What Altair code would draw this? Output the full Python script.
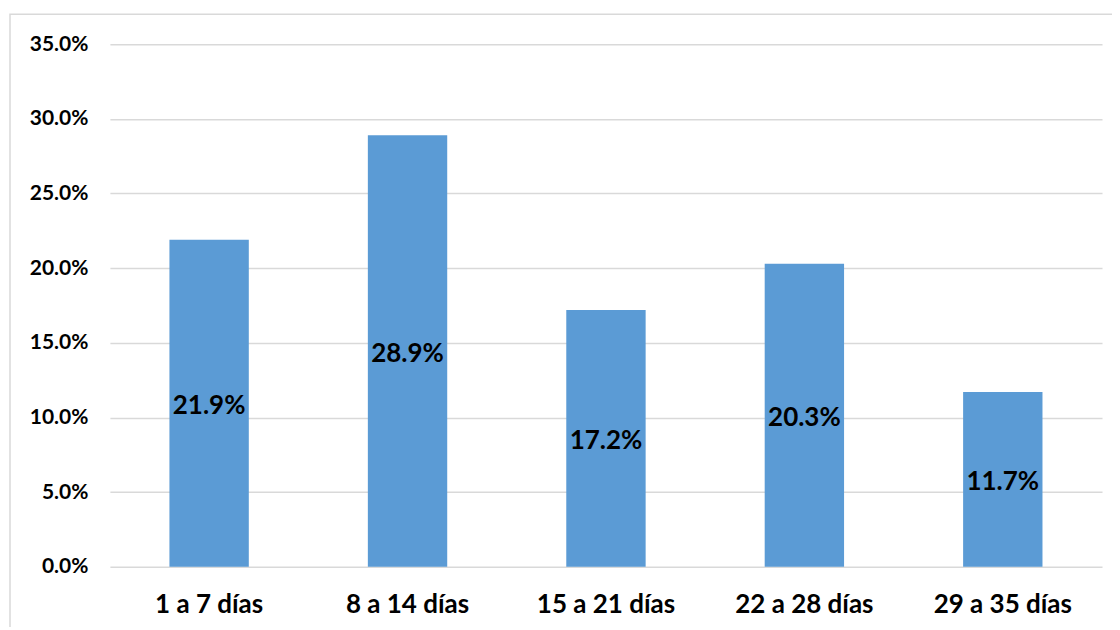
import altair as alt
import pandas as pd

categories = ["1 a 7 días", "8 a 14 días", "15 a 21 días", "22 a 28 días", "29 a 35 días"]
values = [0.219, 0.289, 0.172, 0.203, 0.117]

df = pd.DataFrame({"cat": categories, "val": values})
df["mid"] = df["val"] / 2
df["label"] = [f"{v*100:.1f}%" for v in values]

FONT = "Lato"

x = alt.X("cat:N", sort=categories, title=None,
          scale=alt.Scale(paddingInner=0.6, paddingOuter=0.3),
          axis=alt.Axis(labelAngle=0, labelFont=FONT, labelFontSize=26, labelFontWeight="bold",
                        labelColor="black", labelPadding=25, domain=False, ticks=False))

frame = alt.Chart(pd.DataFrame({"a": [0]})).mark_rect(
    fillOpacity=0, stroke="#D9D9D9", strokeWidth=1.5
).encode(x=alt.value(-100), x2=alt.value(1100), y=alt.value(-30), y2=alt.value(620))

bars = alt.Chart(df).mark_bar(color="#5B9BD5").encode(
    x=x,
    y=alt.Y("val:Q", title=None,
            scale=alt.Scale(domain=[0, 0.35]),
            axis=alt.Axis(values=[0, 0.05, 0.10, 0.15, 0.20, 0.25, 0.30, 0.35], format=".1%",
                          labelFont=FONT, labelFontSize=21, labelFontWeight="bold",
                          labelColor="black", labelPadding=22, domain=False, ticks=False,
                          gridColor="#D9D9D9", gridWidth=1.5)),
)

labels = alt.Chart(df).mark_text(
    font=FONT, fontSize=26, fontWeight="bold", color="black", baseline="middle", dy=3
).encode(x=x, y="mid:Q", text="label:N")

chart = alt.layer(frame, bars, labels).properties(
    width=993, height=523,
    autosize=alt.AutoSizeParams(type="none"),
    padding={"left": 102, "top": 36, "right": 10, "bottom": 60},
).configure_view(stroke=None)

chart.save("out.html", embed_options={"renderer": "svg", "actions": False})
